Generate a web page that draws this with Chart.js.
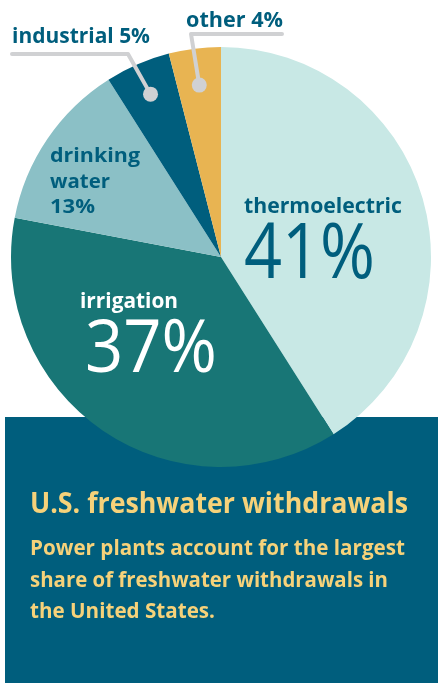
<!DOCTYPE html>
<html>
<head>
<meta charset="utf-8">
<script src="https://cdn.jsdelivr.net/npm/chart.js@4/dist/chart.umd.min.js"></script>
<style>
html,body{margin:0;padding:0;background:#ffffff;}
canvas{display:block;}
</style>
</head>
<body>
<canvas id="c" width="438" height="683"></canvas>
<script>
// ---- data ----
const categories = ["thermoelectric", "irrigation", "drinking water", "industrial", "other"];
const shares = [41, 37, 13, 5, 4];
const sliceColors = ["#c8e8e5", "#187676", "#8bc0c6", "#005e7d", "#e8b452"];
const titleText = "U.S. freshwater withdrawals";
const bodyLines = ["Power plants account for the largest", "share of freshwater withdrawals in", "the United States."];

const DARK = "#005e7d";
const YELLOW = "#f6d27a";
const GREY = "#d0d1d3";
const FONT = "'Open Sans', 'Noto Sans', sans-serif";

// draw text with left x, baseline y, fitted horizontally to a target width
function fitText(ctx, txt, x, y, w, size, weight, color) {
  ctx.save();
  ctx.font = weight + " " + size + "px " + FONT;
  ctx.fillStyle = color;
  ctx.textBaseline = "alphabetic";
  ctx.textAlign = "left";
  const nat = ctx.measureText(txt).width;
  const sx = w / nat;
  ctx.translate(x, y);
  ctx.scale(sx, 1);
  ctx.fillText(txt, 0, 0);
  ctx.restore();
}

const boxPlugin = {
  id: "box",
  beforeDatasetsDraw(chart) {
    const ctx = chart.ctx;
    ctx.save();
    ctx.fillStyle = DARK;
    ctx.fillRect(5, 417, 433, 266);
    ctx.restore();
  }
};

function arcPoint(arc, frac) {
  const mid = (arc.startAngle + arc.endAngle) / 2;
  return { x: arc.x + Math.cos(mid) * arc.outerRadius * frac, y: arc.y + Math.sin(mid) * arc.outerRadius * frac };
}

const labelPlugin = {
  id: "labels",
  afterDatasetsDraw(chart) {
    const ctx = chart.ctx;
    const arcs = chart.getDatasetMeta(0).data;
    // leader lines
    ctx.save();
    ctx.strokeStyle = GREY;
    ctx.fillStyle = GREY;
    ctx.lineWidth = 4;
    ctx.lineCap = "round";
    ctx.lineJoin = "round";
    const pOther = arcPoint(arcs[4], 0.825);
    ctx.beginPath();
    ctx.moveTo(pOther.x, pOther.y);
    ctx.lineTo(191, 34);
    ctx.lineTo(282, 34);
    ctx.stroke();
    ctx.beginPath(); ctx.arc(pOther.x, pOther.y, 7.5, 0, Math.PI * 2); ctx.fill();
    const pInd = arcPoint(arcs[3], 0.845);
    ctx.beginPath();
    ctx.moveTo(pInd.x, pInd.y);
    ctx.lineTo(128, 54);
    ctx.lineTo(12, 54);
    ctx.stroke();
    ctx.beginPath(); ctx.arc(pInd.x, pInd.y, 7.5, 0, Math.PI * 2); ctx.fill();
    ctx.restore();

    // labels
    fitText(ctx, "other " + shares[4] + "%", 186, 27, 97, 21, 700, DARK);
    fitText(ctx, "industrial " + shares[3] + "%", 12, 43, 138, 22, 700, DARK);
    fitText(ctx, "drinking", 50, 162, 90, 20, 700, DARK);
    fitText(ctx, "water", 50, 188, 60, 20, 700, DARK);
    fitText(ctx, shares[2] + "%", 50, 213, 45, 20, 700, DARK);
    fitText(ctx, categories[0], 244, 213, 158, 21, 700, DARK);
    fitText(ctx, shares[0] + "%", 244, 278, 131, 77, 400, DARK);
    fitText(ctx, categories[1], 80, 308, 98, 21, 700, "#ffffff");
    fitText(ctx, shares[1] + "%", 85, 372, 132, 73, 400, "#ffffff");

    // box text
    fitText(ctx, titleText, 30, 513, 378, 28, 700, YELLOW);
    const widths = [375, 358, 185];
    const bases = [555, 587, 618];
    bodyLines.forEach((t, i) => fitText(ctx, t, 30, bases[i], widths[i], 21, 700, YELLOW));
  }
};

new Chart(document.getElementById("c"), {
  type: "pie",
  data: {
    labels: categories,
    datasets: [{ data: shares, backgroundColor: sliceColors, borderWidth: 0 }]
  },
  options: {
    responsive: false,
    animation: false,
    layout: { padding: { left: 11, top: 47, right: 7, bottom: 216 } },
    plugins: { legend: { display: false }, tooltip: { enabled: false } }
  },
  plugins: [boxPlugin, labelPlugin]
});
</script>
</body>
</html>
